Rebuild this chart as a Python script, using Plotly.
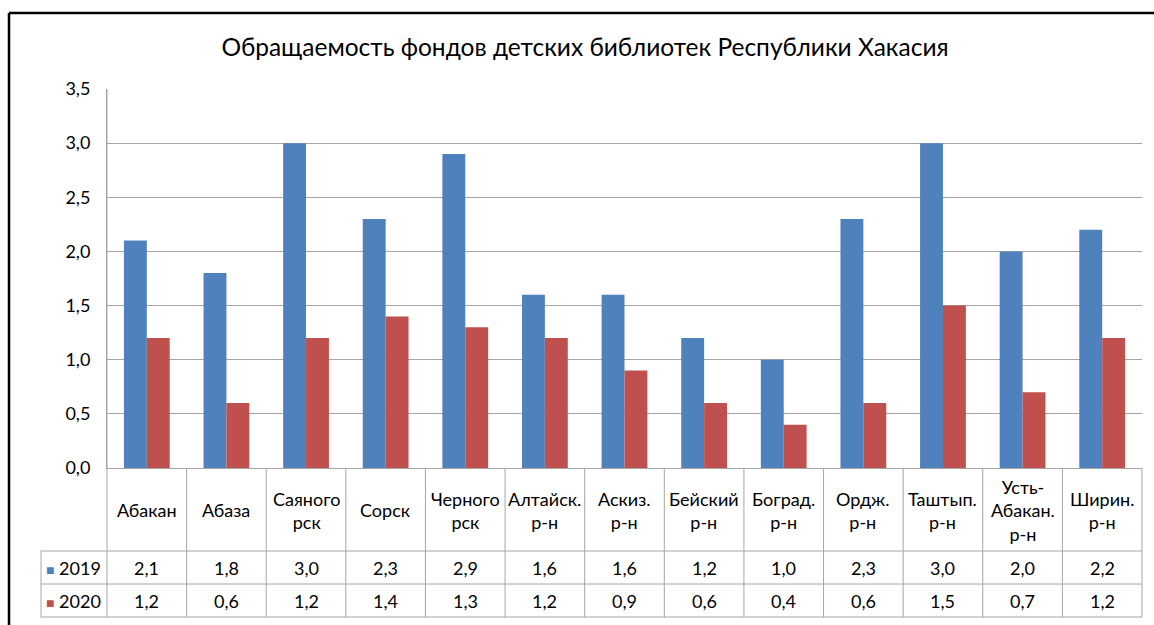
import plotly.graph_objects as go

categories = ["Абакан", "Абаза", "Саяного<br>рск", "Сорск", "Черного<br>рск",
              "Алтайск.<br>р-н", "Аскиз.<br>р-н", "Бейский<br>р-н", "Боград.<br>р-н",
              "Ордж.<br>р-н", "Таштып.<br>р-н", "Усть-<br>Абакан.<br>р-н", "Ширин.<br>р-н"]
values_2019 = [2.1, 1.8, 3.0, 2.3, 2.9, 1.6, 1.6, 1.2, 1.0, 2.3, 3.0, 2.0, 2.2]
values_2020 = [1.2, 0.6, 1.2, 1.4, 1.3, 1.2, 0.9, 0.6, 0.4, 0.6, 1.5, 0.7, 1.2]
series_names = ["2019", "2020"]
series_colors = ["#4F81BD", "#C0504D"]
title_text = "Обращаемость фондов детских библиотек Республики Хакасия"

FONT = "Lato, Carlito, 'Open Sans', sans-serif"
W, H = 1154, 625
L, R, T, B = 107, 12, 89, 157
ph = H - T - B
pw = W - L - R

def py(ypix):
    return (H - B - ypix) / ph

def px(xpix):
    return (xpix - L) / pw

fig = go.Figure()
for name, vals, col in zip(series_names, [values_2019, values_2020], series_colors):
    fig.add_trace(go.Bar(x=categories, y=vals, name=name, marker_color=col,
                         marker_line_width=0, hoverinfo="skip"))

grid = "#A6A6A6"
shapes = []
y_row1 = py(551)
y_row2 = py(584)
y_row3 = py(617)
for yy in (y_row1, y_row2, y_row3):
    shapes.append(dict(type="line", xref="paper", yref="paper", x0=px(41), x1=1,
                       y0=yy, y1=yy, line=dict(color=grid, width=1)))
for i in range(1, len(categories)):
    shapes.append(dict(type="line", xref="x", yref="paper", x0=i - 0.5, x1=i - 0.5,
                       y0=0, y1=y_row3, line=dict(color=grid, width=1)))
shapes.append(dict(type="line", xref="paper", yref="paper", x0=0, x1=0,
                   y0=1, y1=y_row3, line=dict(color=grid, width=1)))
shapes.append(dict(type="line", xref="paper", yref="paper", x0=1, x1=1,
                   y0=0, y1=y_row3, line=dict(color=grid, width=1)))
shapes.append(dict(type="line", xref="paper", yref="paper", x0=px(41), x1=px(41),
                   y0=y_row1, y1=y_row3, line=dict(color=grid, width=1)))
# outer frame
shapes.append(dict(type="line", xref="paper", yref="paper", x0=px(9), x1=px(1160),
                   y0=py(13), y1=py(13), line=dict(color="#000000", width=2.5)))
shapes.append(dict(type="line", xref="paper", yref="paper", x0=px(9), x1=px(9),
                   y0=py(13), y1=py(640), line=dict(color="#000000", width=2.5)))

annotations = []
fsz = 18
for cat, v1, v2 in zip(categories, values_2019, values_2020):
    annotations.append(dict(x=cat, xref="x", y=py(510), yref="paper", text=cat,
                            xanchor="center", yanchor="middle",
                            showarrow=False, font=dict(size=fsz, color="#000")))
    annotations.append(dict(x=cat, xref="x", y=py(568), yref="paper",
                            text=f"{v1:.1f}".replace(".", ","),
                            xanchor="center", yanchor="middle",
                            showarrow=False, font=dict(size=fsz, color="#000")))
    annotations.append(dict(x=cat, xref="x", y=py(601), yref="paper",
                            text=f"{v2:.1f}".replace(".", ","),
                            xanchor="center", yanchor="middle",
                            showarrow=False, font=dict(size=fsz, color="#000")))
for name, col, yp in zip(series_names, series_colors, (568, 601)):
    annotations.append(dict(x=px(44), xref="paper", xanchor="left", y=py(yp), yref="paper",
                            yanchor="middle",
                            text=f"<span style='color:{col};font-size:14px'>■</span> {name}",
                            showarrow=False, font=dict(size=fsz, color="#000")))

fig.update_layout(
    width=W, height=H,
    margin=dict(l=L, r=R, t=T, b=B),
    paper_bgcolor="white", plot_bgcolor="white",
    font=dict(family=FONT, size=18, color="#000"),
    title=dict(text=title_text, x=585 / W, xref="container", xanchor="center",
               y=1 - 47 / H, yanchor="middle", font=dict(size=24.5, color="#000")),
    separators=", ",
    barmode="group", bargap=0.425, bargroupgap=0,
    showlegend=False,
    shapes=shapes, annotations=annotations,
)
fig.update_xaxes(showticklabels=False, showgrid=False, showline=True, linecolor=grid,
                 ticks="", zeroline=False)
fig.update_yaxes(range=[0, 3.5], dtick=0.5, tickformat=".1f", showgrid=True,
                 gridcolor=grid, gridwidth=1, showline=True, linecolor=grid,
                 ticks="outside", ticklen=12, tickcolor="rgba(0,0,0,0)",
                 zeroline=False, tickfont=dict(size=18))

fig.write_html("out.html", config={"displayModeBar": False},
               post_script="document.body.style.margin='0';document.body.style.overflow='hidden';")
